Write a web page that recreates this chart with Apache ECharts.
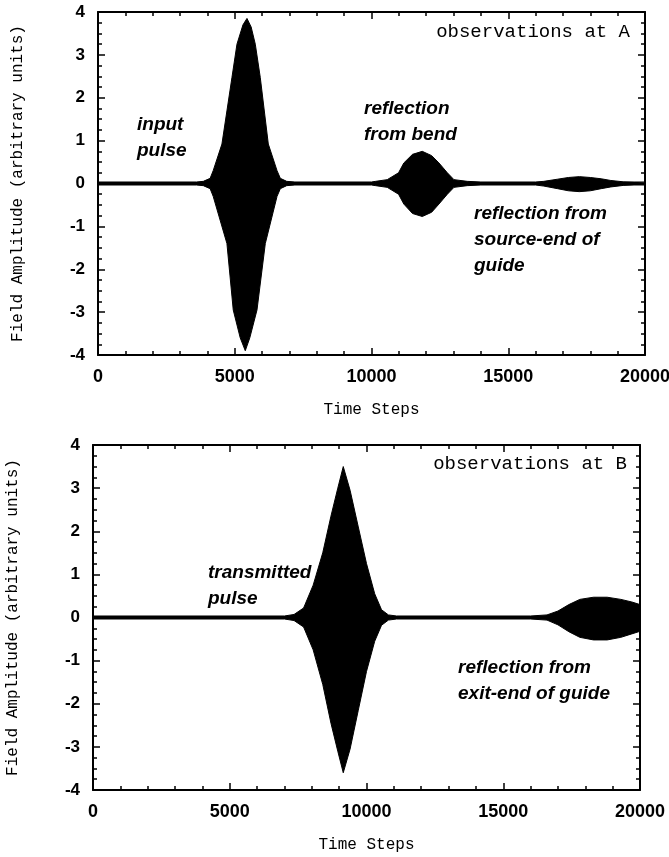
<!DOCTYPE html>
<html>
<head>
<meta charset="utf-8">
<script src="https://cdn.jsdelivr.net/npm/echarts@6/dist/echarts.min.js"></script>
<style>
  html, body { margin: 0; padding: 0; background: #fff; }
  #chart { width: 669px; height: 857px; }
</style>
</head>
<body>
<div id="chart"></div>
<script>
// Axis ticks
const timeTicks = [0, 5000, 10000, 15000, 20000];
const ampTicks = [-4, -3, -2, -1, 0, 1, 2, 3, 4];

// Field envelope observed at A: [time step, amplitude]
const envelopeAUpper = [
  [0, 0.035], [3600, 0.035], [3850, 0.05], [4100, 0.12], [4212, 0.3], [4531, 0.92],
  [4897, 2.47], [5081, 3.25], [5300, 3.7], [5447, 3.85], [5600, 3.65], [5751, 3.25],
  [5934, 2.47], [6227, 0.92], [6546, 0.3], [6667, 0.12], [6900, 0.05], [7200, 0.035],
  [10000, 0.035], [10150, 0.05], [10575, 0.09], [10989, 0.25], [11183, 0.48],
  [11500, 0.68], [11857, 0.75], [12200, 0.65], [12465, 0.48], [12773, 0.25],
  [13015, 0.09], [13500, 0.05], [14000, 0.035],
  [16000, 0.035], [16300, 0.05], [16800, 0.1], [17200, 0.14], [17600, 0.16],
  [18000, 0.14], [18400, 0.11], [18750, 0.07], [19200, 0.04], [19600, 0.035], [20000, 0.035]
];
const envelopeALower = [
  [0, -0.035], [3600, -0.035], [3850, -0.05], [4100, -0.12], [4212, -0.3], [4714, -1.4],
  [4945, -2.95], [5200, -3.6], [5385, -3.9], [5550, -3.6], [5813, -2.95], [6117, -1.4],
  [6546, -0.3], [6667, -0.12], [6900, -0.05], [7200, -0.035],
  [10000, -0.035], [10150, -0.05], [10575, -0.09], [10989, -0.25], [11183, -0.48],
  [11500, -0.7], [11857, -0.77], [12200, -0.67], [12465, -0.48], [12773, -0.25],
  [13015, -0.09], [13500, -0.05], [14000, -0.035],
  [16000, -0.035], [16300, -0.06], [16800, -0.12], [17200, -0.17], [17600, -0.19],
  [18000, -0.17], [18400, -0.12], [18750, -0.08], [19200, -0.045], [19600, -0.035], [20000, -0.035]
];

// Field envelope observed at B: [time step, amplitude]
const envelopeBUpper = [
  [0, 0.035], [7000, 0.035], [7350, 0.07], [7700, 0.22], [8050, 0.75], [8400, 1.5],
  [8700, 2.35], [8950, 3.0], [9150, 3.5], [9400, 2.95], [9700, 2.1], [10000, 1.25],
  [10300, 0.55], [10550, 0.18], [10800, 0.06], [11100, 0.035],
  [16000, 0.035], [16600, 0.06], [17000, 0.15], [17400, 0.3], [17800, 0.42],
  [18300, 0.47], [18800, 0.47], [19300, 0.42], [19700, 0.36], [20000, 0.3]
];
const envelopeBLower = [
  [0, -0.035], [7000, -0.035], [7350, -0.07], [7700, -0.22], [8050, -0.75], [8400, -1.55],
  [8700, -2.45], [8950, -3.1], [9150, -3.6], [9400, -3.05], [9700, -2.15], [10000, -1.25],
  [10300, -0.55], [10550, -0.18], [10800, -0.06], [11100, -0.035],
  [16000, -0.035], [16600, -0.06], [17000, -0.17], [17400, -0.33], [17800, -0.46],
  [18300, -0.52], [18800, -0.52], [19300, -0.46], [19700, -0.38], [20000, -0.32]
];

const monoFont = '"Liberation Mono", "Courier New", monospace';
const sansFont = '"Liberation Sans", Arial, Helvetica, sans-serif';

function plainNumber(v) { return String(v); }

function xAxes(gridIndex) {
  const common = {
    type: 'value', gridIndex: gridIndex,
    min: timeTicks[0], max: timeTicks[timeTicks.length - 1],
    interval: timeTicks[1] - timeTicks[0],
    splitLine: { show: false },
    axisLine: { show: true, onZero: false, lineStyle: { color: '#000', width: 2 } },
    axisTick: { show: true, inside: true, length: 7, lineStyle: { color: '#000', width: 1.5 } },
    minorTick: { show: true, splitNumber: 5, length: 4, lineStyle: { color: '#000', width: 1.5 } },
    minorSplitLine: { show: false }
  };
  return [
    Object.assign({}, common, {
      position: 'bottom',
      name: 'Time Steps', nameLocation: 'middle', nameGap: 47,
      nameTextStyle: { fontFamily: monoFont, fontSize: 16, color: '#000' },
      axisLabel: { show: true, margin: 13, formatter: plainNumber, fontFamily: sansFont, fontWeight: 'bold', fontSize: 18, color: '#000' }
    }),
    Object.assign({}, common, { position: 'top', axisLabel: { show: false } })
  ];
}

function yAxes(gridIndex) {
  const common = {
    type: 'value', gridIndex: gridIndex,
    min: ampTicks[0], max: ampTicks[ampTicks.length - 1],
    interval: ampTicks[1] - ampTicks[0],
    splitLine: { show: false },
    axisLine: { show: true, onZero: false, lineStyle: { color: '#000', width: 2 } },
    axisTick: { show: true, inside: true, length: 7, lineStyle: { color: '#000', width: 1.5 } },
    minorTick: { show: true, splitNumber: 4, length: 4, lineStyle: { color: '#000', width: 1.5 } },
    minorSplitLine: { show: false }
  };
  return [
    Object.assign({}, common, {
      position: 'left',
      name: 'Field Amplitude (arbitrary units)', nameLocation: 'middle', nameGap: 72,
      nameTextStyle: { fontFamily: monoFont, fontSize: 16, color: '#000' },
      axisLabel: { show: true, margin: 13, formatter: plainNumber, fontFamily: sansFont, fontWeight: 'bold', fontSize: 17, color: '#000' }
    }),
    Object.assign({}, common, { position: 'right', axisLabel: { show: false } })
  ];
}

function band(data, xIndex, yIndex, withBaseline) {
  const s = {
    type: 'line', data: data, xAxisIndex: xIndex, yAxisIndex: yIndex,
    symbol: 'none', smooth: false, silent: true, animation: false,
    lineStyle: { color: '#000', width: 1 },
    areaStyle: { color: '#000', opacity: 1, origin: 'auto' }
  };
  if (withBaseline) {
    // solid zero line where the two halves of the band meet
    s.markLine = {
      silent: true, symbol: 'none', label: { show: false },
      lineStyle: { color: '#000', width: 2.5, type: 'solid' },
      data: [{ yAxis: 0 }]
    };
  }
  return s;
}

function label(text, x, y, font, align) {
  return {
    type: 'text', x: x, y: y, silent: true,
    style: { text: text, font: font, fill: '#000', align: align || 'left', verticalAlign: 'middle', lineHeight: 26 }
  };
}

const noteFont = 'italic bold 19px "Liberation Sans", Arial, sans-serif';
const boxFont = '19px "Liberation Mono", "Courier New", monospace';

const option = {
  backgroundColor: '#fff',
  animation: false,
  grid: [
    { left: 98, right: 24, top: 12, height: 343, outerBoundsMode: 'none', containLabel: false },
    { left: 93, right: 29, top: 445, height: 345, outerBoundsMode: 'none', containLabel: false }
  ],
  xAxis: [...xAxes(0), ...xAxes(1)],
  yAxis: [...yAxes(0), ...yAxes(1)],
  series: [
    band(envelopeAUpper, 0, 0, true),
    band(envelopeALower, 0, 0, false),
    band(envelopeBUpper, 2, 2, true),
    band(envelopeBLower, 2, 2, false)
  ],
  graphic: [
    label('observations at A', 630, 32, boxFont, 'right'),
    label('input\npulse', 137, 138, noteFont),
    label('reflection\nfrom bend', 364, 122, noteFont),
    label('reflection from\nsource-end of\nguide', 474, 240, noteFont),
    label('observations at B', 627, 464, boxFont, 'right'),
    label('transmitted\npulse', 208, 586, noteFont),
    label('reflection from\nexit-end of guide', 458, 681, noteFont)
  ]
};

const chart = echarts.init(document.getElementById('chart'), null, { renderer: 'canvas' });
chart.setOption(option);
</script>
</body>
</html>
